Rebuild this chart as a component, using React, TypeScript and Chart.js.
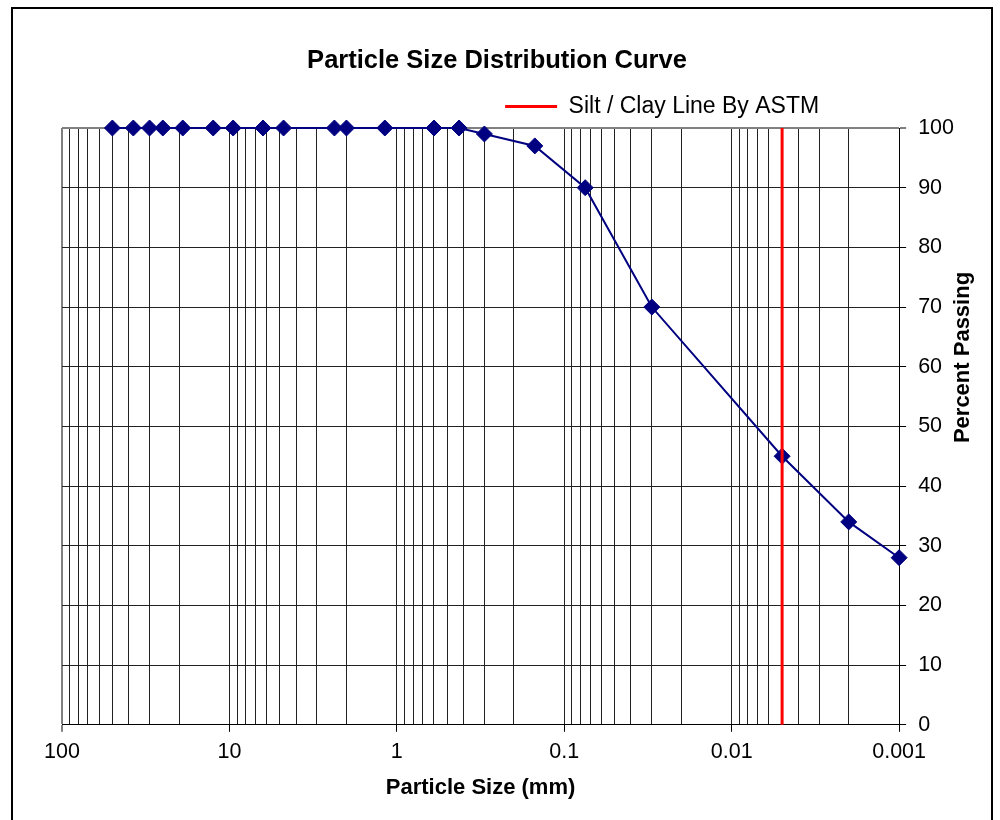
import { useEffect, useRef } from 'react';
import { Chart, registerables } from 'chart.js';

Chart.register(...registerables);

const FONT = '"Liberation Sans", Arial, Helvetica, sans-serif';

const TITLE = 'Particle Size Distribution Curve';
const X_TITLE = 'Particle Size (mm)';
const Y_TITLE = 'Percent Passing';
const SERIES_LABEL = 'Percent Passing';
const LINE_LABEL = 'Silt / Clay Line By ASTM';

// sieve / hydrometer data
const particleSizes = [50, 37.5, 30, 25, 19, 12.5, 9.5, 6.3, 4.75, 2.36, 2, 1.18, 0.6, 0.425, 0.3, 0.15, 0.075, 0.03, 0.005, 0.002, 0.001];
const percentPassing = [100, 100, 100, 100, 100, 100, 100, 100, 100, 100, 100, 100, 100, 100, 99, 97, 90, 70, 45, 34, 28];

// silt / clay boundary (ASTM)
const siltClaySize = 0.005;
const siltClayRange = [0, 100];

// axes
const xMajorTicks = [100, 10, 1, 0.1, 0.01, 0.001];
const xTickLabels = ['100', '10', '1', '0.1', '0.01', '0.001'];
const xMinorMultipliers = [9, 8, 7, 6, 5, 4, 3, 2];
const yMin = 0;
const yMax = 100;
const yStep = 10;

const xTicks: { value: number; major: boolean }[] = [];
xMajorTicks.forEach((m, i) => {
  xTicks.push({ value: m, major: true });
  if (i < xMajorTicks.length - 1) {
    const next = xMajorTicks[i + 1];
    xMinorMultipliers.forEach((k) => xTicks.push({ value: +(k * next).toPrecision(6), major: false }));
  }
});

const labelFor = (v: number) => {
  const idx = xMajorTicks.findIndex((m) => Math.abs(Math.log10(m) - Math.log10(v)) < 1e-6);
  return idx >= 0 ? xTickLabels[idx] : '';
};

const boxShift = {
  id: 'boxShift',
  beforeDraw(chart: any) {
    const area = chart.chartArea;
    if (!area) return;
    const lg = chart.legend;
    if (lg) {
      const w = lg.right - lg.left;
      lg.right = area.right - 70;
      lg.left = lg.right - w;
    }
    const t = chart.titleBlock;
    if (t) {
      const w = t.right - t.left;
      const c = area.left + 435;
      t.left = c - w / 2;
      t.right = c + w / 2;
    }
  },
};

const yTitlePlugin = {
  id: 'yTitleLeftReading',
  afterDraw(chart: any) {
    const { ctx, chartArea } = chart;
    ctx.save();
    ctx.translate(chartArea.right + 64, chartArea.top + 229.5);
    ctx.rotate(-Math.PI / 2);
    ctx.font = `bold 22px ${FONT}`;
    ctx.fillStyle = '#000';
    ctx.textAlign = 'center';
    ctx.textBaseline = 'middle';
    ctx.fillText(Y_TITLE, 0, 0);
    ctx.restore();
  },
};

export default function App() {
  const ref = useRef<HTMLCanvasElement | null>(null);

  useEffect(() => {
    if (!ref.current) return;
    Chart.defaults.font.family = FONT;
    Chart.defaults.color = '#000';

    const chart = new Chart(ref.current, {
      type: 'line',
      data: {
        datasets: [
          {
            label: LINE_LABEL,
            data: siltClayRange.map((y) => ({ x: siltClaySize, y })),
            borderColor: '#ff0000',
            backgroundColor: '#ff0000',
            borderWidth: 3,
            pointRadius: 0,
            pointHoverRadius: 0,
            clip: false as any,
          },
          {
            label: SERIES_LABEL,
            data: particleSizes.map((x, i) => ({ x, y: percentPassing[i] })),
            borderColor: '#000080',
            backgroundColor: '#000080',
            borderWidth: 2,
            pointStyle: 'rectRot',
            pointRadius: 8,
            pointBorderWidth: 1,
            pointBackgroundColor: '#000080',
            pointBorderColor: '#000080',
            tension: 0,
            clip: false as any,
          },
        ],
      },
      options: {
        responsive: false,
        animation: false,
        layout: { padding: { top: 0, left: 49, right: 25, bottom: 15.5 } },
        plugins: {
          title: {
            display: true,
            text: TITLE,
            color: '#000',
            font: { size: 25.5, weight: 'bold', family: FONT },
            padding: { top: 37, bottom: 8.4 },
          },
          legend: {
            display: true,
            position: 'top',
            align: 'end',
            labels: {
              filter: (item: any) => item.text === LINE_LABEL,
              boxWidth: 52,
              boxHeight: 0,
              padding: 10,
              color: '#000',
              font: { size: 23, family: FONT },
            },
          },
          tooltip: { enabled: false },
        },
        scales: {
          x: {
            type: 'logarithmic',
            reverse: true,
            min: 0.001,
            max: 100,
            afterBuildTicks: (scale: any) => {
              scale.ticks = xTicks.map((t) => ({ value: t.value, major: t.major }));
            },
            ticks: {
              autoSkip: false,
              maxRotation: 0,
              minRotation: 0,
              padding: 7,
              color: '#000',
              font: { size: 21.5, family: FONT },
              callback: (value: any) => labelFor(Number(value)),
            },
            grid: {
              color: (c: any) => (c.tick && Math.abs(c.tick.value - 100) < 1e-9 ? '#808080' : '#222'),
              lineWidth: (c: any) => (c.tick && Math.abs(c.tick.value - 100) < 1e-9 ? 2 : 1),
              tickLength: 7,
              tickColor: (c: any) => (c.tick && c.tick.major ? '#000' : 'rgba(0,0,0,0)'),
              tickWidth: 1,
            },
            border: { display: true, color: '#000', width: 1 },
            title: {
              display: true,
              text: X_TITLE,
              color: '#000',
              font: { size: 22, weight: 'bold', family: FONT },
              padding: { top: 3.5, bottom: 4 },
            },
          },
          y: {
            type: 'linear',
            position: 'right',
            min: yMin,
            max: yMax,
            ticks: {
              stepSize: yStep,
              padding: 12,
              color: '#000',
              font: { size: 21.5, family: FONT },
            },
            grid: {
              color: (c: any) => (c.tick && c.tick.value === yMax ? '#808080' : '#222'),
              lineWidth: (c: any) => (c.tick && c.tick.value === yMax ? 2 : 1),
              tickLength: 7,
              tickColor: '#000',
              tickWidth: 1,
            },
            border: { display: true, color: '#000', width: 1 },
            title: { display: false },
          },
        },
      },
      plugins: [boxShift, yTitlePlugin],
    } as any);

    return () => chart.destroy();
  }, []);

  return (
    <div
      style={{
        position: 'fixed',
        left: 11,
        top: 7,
        width: 982,
        height: 816,
        border: '2px solid #000',
        boxSizing: 'border-box',
        background: '#fff',
      }}
    >
      <canvas ref={ref} width={978} height={812} style={{ display: 'block', width: 978, height: 812 }} />
    </div>
  );
}
